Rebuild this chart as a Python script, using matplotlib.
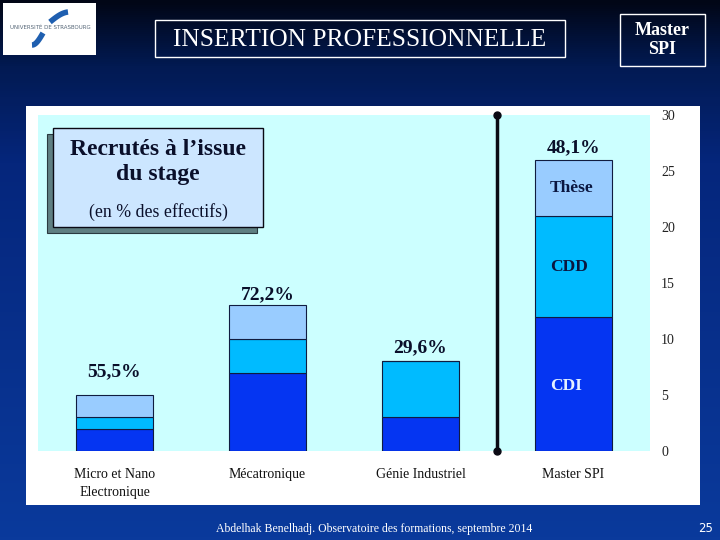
import numpy as np
import matplotlib
matplotlib.use("Agg")
import matplotlib.pyplot as plt
from matplotlib.patches import Rectangle
from matplotlib.colors import LinearSegmentedColormap

# data: recruits at end of internship
categories = ["Micro et Nano\nElectronique", "Mécatronique", "Génie Industriel", "Master SPI"]
cdi = [2, 7, 3, 12]
cdd = [1, 3, 5, 9]
these = [2, 3, 0, 5]
pct_labels = ["55,5%", "72,2%", "29,6%", "48,1%"]
yticks = [0, 5, 10, 15, 20, 25, 30]

# where the labels sit (data coords)
pct_y = [7.07, 13.97, 9.22, 27.1]
seg_labels = ["Thèse", "CDD", "CDI"]
seg_pos = [(2.99, 23.5), (2.97, 16.4), (2.95, 5.8)]
seg_colors = ["#0a1640", "#0a1640", "#e6f2ff"]

serif = "Liberation Serif"
c_cdi, c_cdd, c_these = "#0535f2", "#00bbff", "#99ccff"

fig = plt.figure(figsize=(7.2, 5.4), dpi=100)

# slide background + white chart zone, in pixel coords
bg = fig.add_axes([0, 0, 1, 1], zorder=0)
cmap = LinearSegmentedColormap.from_list("slide", [(0, "#010616"), (0.12, "#021a52"),
                                                   (0.3, "#05267c"), (1.0, "#0a3a9c")])
grad = np.linspace(0, 1, 540).reshape(-1, 1)
bg.imshow(grad, cmap=cmap, aspect="auto", extent=[0, 720, 540, 0])
bg.set_xlim(0, 720)
bg.set_ylim(540, 0)
bg.axis("off")
bg.add_patch(Rectangle((26, 106), 674, 399, facecolor="white", edgecolor="none"))

# the chart itself
ax = fig.add_axes([38 / 720, 89 / 540, 612 / 720, 336 / 540], zorder=2)
ax.set_facecolor("#ccffff")
x = np.arange(len(categories))
bot2 = np.array(cdi) + np.array(cdd)
ax.bar(x, cdi, width=0.5, color=c_cdi, edgecolor="#101c40", linewidth=0.8)
ax.bar(x, cdd, width=0.5, bottom=cdi, color=c_cdd, edgecolor="#101c40", linewidth=0.8)
ax.bar(x, these, width=0.5, bottom=bot2, color=c_these, edgecolor="#101c40", linewidth=0.8)

for i, lab in enumerate(pct_labels):
    ax.text(x[i], pct_y[i], lab, ha="center", va="center", fontsize=14,
            fontweight="bold", family=serif, color="#0a0f2a")
for lab, (px, py), col in zip(seg_labels, seg_pos, seg_colors):
    ax.text(px, py, lab, ha="center", va="center", fontsize=12.5,
            fontweight="bold", family=serif, color=col)

# separator line before Master SPI
ax.plot([2.5, 2.5], [0, 30], color="#0a0a14", lw=2.5, marker="o", ms=5, clip_on=False)

ax.set_xlim(-0.5, 3.5)
ax.set_ylim(0, 30)
ax.set_xticks(x)
ax.set_xticklabels(categories, family=serif, fontsize=10, color="#111111", linespacing=1.55)
ax.yaxis.tick_right()
ax.set_yticks(yticks)
ax.set_yticklabels([str(v) for v in yticks], family=serif, fontsize=10, color="#222222")
ax.tick_params(axis="both", length=0)
ax.tick_params(axis="x", pad=12)
ax.tick_params(axis="y", pad=8)
for s in ax.spines.values():
    s.set_visible(False)

# overlay: header, boxes, footer
ov = fig.add_axes([0, 0, 1, 1], zorder=3)
ov.set_xlim(0, 720)
ov.set_ylim(540, 0)
ov.axis("off")
ov.patch.set_alpha(0)

# logo
ov.add_patch(Rectangle((3, 3), 93, 52, facecolor="white", edgecolor="none"))
t = np.linspace(0, 1, 30)
ov.plot(50 + 18 * t, 22 - 8 * np.sin(t * np.pi / 2) - 2 * t, color="#1f5fb0", lw=4, solid_capstyle="butt")
ov.plot(43 - 11 * t, 33 + 12 * np.sin(t * np.pi / 2), color="#1f5fb0", lw=4, solid_capstyle="butt")
ov.text(50, 27.5, "UNIVERSITÉ DE STRASBOURG", ha="center", va="center", fontsize=4.0,
        color="#556677", family="DejaVu Sans")

# title
ov.add_patch(Rectangle((155, 20), 410, 37, facecolor="none", edgecolor="white", lw=1))
ov.text(360, 39.5, "INSERTION PROFESSIONNELLE", ha="center", va="center", fontsize=18.4,
        family=serif, color="white")
ov.add_patch(Rectangle((620, 14), 85, 52, facecolor="none", edgecolor="white", lw=1))
ov.text(662.5, 40, "Master\nSPI", ha="center", va="center", fontsize=13, fontweight="bold",
        family=serif, color="white", linespacing=1.2)

# "Recrutés" box with shadow
ov.add_patch(Rectangle((47, 134), 210, 99, facecolor="#5f7f82", edgecolor="#2a3a40", lw=0.8))
ov.add_patch(Rectangle((53, 128), 210, 99, facecolor="#cce6ff", edgecolor="#0a0a14", lw=1))
ov.text(158, 162, "Recrutés à l’issue\ndu stage", ha="center", va="center", fontsize=17,
        fontweight="bold", family=serif, color="#0a0f2a", linespacing=1.3)
ov.text(158, 212, "(en % des effectifs)", ha="center", va="center", fontsize=12.8,
        family=serif, color="#0a0f2a")

# footer
ov.text(374, 529, "Abdelhak Benelhadj. Observatoire des formations, septembre 2014",
        ha="center", va="center", fontsize=8.5, family=serif, color="white")
ov.text(706, 529, "25", ha="center", va="center", fontsize=8.5, family="DejaVu Sans", color="white")

fig.savefig("out.png", dpi=100)
